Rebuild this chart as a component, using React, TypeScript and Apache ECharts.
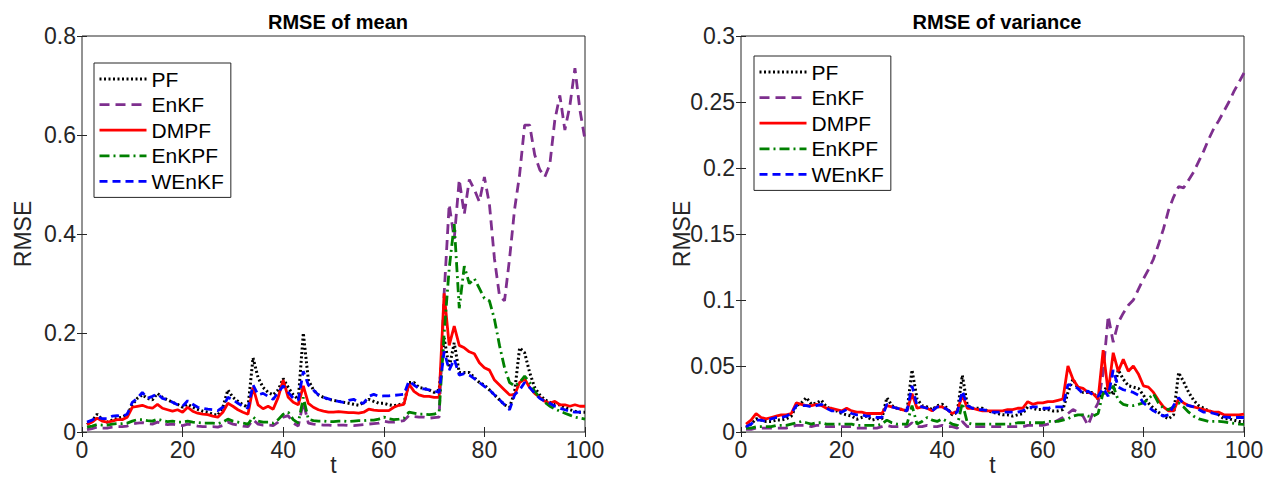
import React, { useEffect, useRef } from "react";
import * as echarts from "echarts";

const T = Array.from({ length: 100 }, (_, i) => i + 1);
const seriesNames = ["PF", "EnKF", "DMPF", "EnKPF", "WEnKF"];

// ---- RMSE of mean ----
const meanPF = [
  0.015, 0.022, 0.036, 0.025, 0.02, 0.024, 0.028, 0.03, 0.035, 0.055,
  0.068, 0.075, 0.068, 0.065, 0.078, 0.07, 0.065, 0.06, 0.056, 0.05,
  0.056, 0.05, 0.046, 0.042, 0.04, 0.036, 0.034, 0.05, 0.085, 0.07,
  0.062, 0.055, 0.05, 0.15, 0.11, 0.09, 0.08, 0.075, 0.085, 0.108,
  0.09, 0.075, 0.066, 0.2, 0.105, 0.085, 0.075, 0.07, 0.066, 0.064,
  0.062, 0.06, 0.058, 0.056, 0.054, 0.06, 0.066, 0.062, 0.058, 0.058,
  0.055, 0.053, 0.055, 0.058, 0.1, 0.1, 0.09, 0.088, 0.085, 0.08,
  0.085, 0.19, 0.13, 0.18, 0.12, 0.12, 0.12, 0.11, 0.1, 0.095,
  0.085, 0.075, 0.065, 0.055, 0.05, 0.08, 0.17, 0.16, 0.12, 0.09,
  0.075, 0.065, 0.06, 0.055, 0.055, 0.05, 0.045, 0.042, 0.04, 0.04,
];
const meanEnKF = [
  0.005, 0.007, 0.01, 0.008, 0.008, 0.01, 0.011, 0.011, 0.012, 0.016,
  0.018, 0.019, 0.017, 0.016, 0.02, 0.017, 0.015, 0.016, 0.014, 0.013,
  0.016, 0.014, 0.012, 0.011, 0.011, 0.011, 0.01, 0.013, 0.02, 0.016,
  0.014, 0.012, 0.011, 0.025, 0.016, 0.014, 0.014, 0.013, 0.02, 0.03,
  0.033, 0.018, 0.012, 0.06, 0.018, 0.016, 0.015, 0.014, 0.014, 0.013,
  0.014, 0.014, 0.013, 0.013, 0.014, 0.015, 0.016, 0.017, 0.018, 0.022,
  0.02, 0.02, 0.021, 0.023, 0.033, 0.031, 0.03, 0.03, 0.028, 0.029,
  0.03, 0.28, 0.46, 0.39, 0.51, 0.44, 0.51, 0.49, 0.465, 0.515,
  0.46, 0.35, 0.275, 0.265, 0.35, 0.45, 0.52, 0.62, 0.62, 0.56,
  0.53, 0.515, 0.54, 0.63, 0.68, 0.61, 0.66, 0.735, 0.65, 0.59,
];
const meanDMPF = [
  0.015, 0.02, 0.028, 0.022, 0.02, 0.022, 0.025, 0.025, 0.03, 0.05,
  0.052, 0.054, 0.05, 0.048, 0.056, 0.048, 0.045, 0.042, 0.045, 0.04,
  0.05, 0.042, 0.038, 0.036, 0.035, 0.032, 0.03, 0.04, 0.058, 0.052,
  0.045, 0.04, 0.036, 0.09, 0.055, 0.047, 0.052, 0.046, 0.07, 0.105,
  0.07, 0.06, 0.055, 0.093, 0.058, 0.05, 0.045, 0.042, 0.04, 0.04,
  0.041, 0.04, 0.039, 0.039, 0.038, 0.04, 0.046, 0.044, 0.043, 0.043,
  0.043, 0.05, 0.054, 0.056, 0.097, 0.082, 0.075, 0.072, 0.072, 0.07,
  0.07, 0.28, 0.175, 0.214, 0.175, 0.17, 0.162, 0.158, 0.14, 0.13,
  0.125, 0.105, 0.095, 0.085, 0.075, 0.075, 0.1, 0.107, 0.09, 0.078,
  0.07, 0.062, 0.058, 0.062, 0.055, 0.055, 0.052, 0.055, 0.052, 0.052,
];
const meanEnKPF = [
  0.01, 0.012, 0.015, 0.014, 0.014, 0.016, 0.017, 0.017, 0.018, 0.022,
  0.025, 0.025, 0.023, 0.022, 0.026, 0.023, 0.021, 0.022, 0.02, 0.02,
  0.022, 0.02, 0.019, 0.018, 0.018, 0.018, 0.017, 0.02, 0.026, 0.022,
  0.02, 0.018, 0.016, 0.03, 0.022, 0.02, 0.02, 0.018, 0.025, 0.036,
  0.04, 0.025, 0.018, 0.07, 0.026, 0.023, 0.022, 0.022, 0.021, 0.021,
  0.022, 0.022, 0.021, 0.022, 0.023, 0.023, 0.024, 0.024, 0.026, 0.03,
  0.027, 0.025, 0.026, 0.028, 0.04, 0.038, 0.036, 0.036, 0.035, 0.036,
  0.04, 0.2, 0.33, 0.42, 0.25, 0.335, 0.3, 0.31, 0.29, 0.27,
  0.265, 0.228, 0.175, 0.13, 0.1, 0.093, 0.1, 0.113, 0.1, 0.082,
  0.07, 0.06, 0.052, 0.047, 0.042, 0.038, 0.034, 0.03, 0.028, 0.026,
];
const meanWEnKF = [
  0.02, 0.024, 0.03, 0.027, 0.027, 0.032, 0.033, 0.032, 0.036, 0.06,
  0.068, 0.08, 0.068, 0.072, 0.077, 0.068, 0.065, 0.06, 0.055, 0.052,
  0.063, 0.056, 0.05, 0.048, 0.046, 0.045, 0.043, 0.05, 0.07, 0.065,
  0.058, 0.052, 0.048, 0.095, 0.075, 0.078, 0.072, 0.066, 0.08, 0.093,
  0.08, 0.068, 0.064, 0.123, 0.095, 0.085, 0.075, 0.07, 0.067, 0.064,
  0.062, 0.06, 0.064, 0.066, 0.06, 0.058, 0.072, 0.076, 0.072, 0.073,
  0.073, 0.074, 0.075, 0.076, 0.103, 0.095, 0.088, 0.087, 0.085, 0.083,
  0.08, 0.163, 0.125, 0.147, 0.115, 0.118, 0.115, 0.108, 0.1, 0.092,
  0.085, 0.075, 0.065, 0.055, 0.045, 0.075, 0.085, 0.1, 0.09, 0.078,
  0.068, 0.062, 0.058, 0.052, 0.048, 0.045, 0.042, 0.04, 0.04, 0.04,
];

// ---- RMSE of variance ----
const varPF = [
  0.003, 0.006, 0.01, 0.009, 0.008, 0.008, 0.009, 0.009, 0.01, 0.012,
  0.02, 0.022, 0.026, 0.021, 0.022, 0.024, 0.019, 0.017, 0.016, 0.014,
  0.013, 0.012, 0.0096, 0.011, 0.012, 0.009, 0.01, 0.01, 0.026, 0.02,
  0.018, 0.017, 0.016, 0.047, 0.025, 0.02, 0.019, 0.017, 0.02, 0.021,
  0.018, 0.013, 0.015, 0.043, 0.02, 0.018, 0.018, 0.018, 0.016, 0.015,
  0.014, 0.013, 0.013, 0.012, 0.013, 0.014, 0.019, 0.018, 0.017, 0.017,
  0.017, 0.016, 0.016, 0.017, 0.03, 0.04, 0.033, 0.03, 0.03, 0.03,
  0.025, 0.03, 0.036, 0.028, 0.047, 0.04, 0.035, 0.034, 0.033, 0.028,
  0.022, 0.018, 0.015, 0.012, 0.01, 0.013, 0.045, 0.038, 0.03, 0.024,
  0.02, 0.018, 0.016, 0.015, 0.013, 0.01, 0.01, 0.009, 0.008, 0.008,
];
const varEnKF = [
  0.002, 0.002, 0.003, 0.003, 0.003, 0.003, 0.003, 0.003, 0.003, 0.004,
  0.005, 0.005, 0.005, 0.004, 0.005, 0.005, 0.004, 0.004, 0.004, 0.004,
  0.004, 0.004, 0.003, 0.003, 0.003, 0.003, 0.003, 0.004, 0.005, 0.004,
  0.004, 0.004, 0.004, 0.007, 0.004, 0.004, 0.005, 0.004, 0.004, 0.005,
  0.004, 0.004, 0.003, 0.008, 0.004, 0.004, 0.004, 0.004, 0.004, 0.004,
  0.004, 0.004, 0.004, 0.004, 0.004, 0.004, 0.005, 0.005, 0.005, 0.005,
  0.006, 0.007, 0.009, 0.011, 0.014, 0.017, 0.015, 0.012, 0.005, 0.015,
  0.022, 0.045, 0.088, 0.068, 0.083, 0.09, 0.096, 0.1, 0.108, 0.116,
  0.123, 0.131, 0.142, 0.154, 0.168, 0.178, 0.186, 0.185, 0.191, 0.197,
  0.205, 0.213, 0.222, 0.23, 0.236, 0.243, 0.25, 0.258, 0.265, 0.272,
];
const varDMPF = [
  0.006, 0.009, 0.014, 0.011, 0.01, 0.011, 0.012, 0.013, 0.013, 0.014,
  0.022, 0.021, 0.02, 0.02, 0.021, 0.02, 0.018, 0.018, 0.017, 0.016,
  0.018, 0.016, 0.015, 0.015, 0.014, 0.014, 0.014, 0.014, 0.02, 0.019,
  0.018, 0.017, 0.016, 0.029, 0.018, 0.019, 0.018, 0.016, 0.019, 0.019,
  0.017, 0.014, 0.016, 0.028, 0.018, 0.018, 0.017, 0.016, 0.016, 0.016,
  0.016, 0.016, 0.017, 0.017, 0.018, 0.018, 0.023, 0.021, 0.022, 0.022,
  0.023, 0.023, 0.024, 0.025, 0.05, 0.04, 0.034, 0.033, 0.03, 0.029,
  0.025, 0.062, 0.03, 0.06, 0.046, 0.055, 0.046, 0.05, 0.044, 0.035,
  0.034, 0.03, 0.024, 0.019, 0.016, 0.016, 0.025, 0.022, 0.02, 0.019,
  0.018, 0.017, 0.016, 0.015, 0.015, 0.013, 0.013, 0.013, 0.013, 0.0135,
];
const varEnKPF = [
  0.003, 0.003, 0.004, 0.004, 0.004, 0.004, 0.005, 0.005, 0.005, 0.006,
  0.007, 0.008, 0.007, 0.006, 0.007, 0.007, 0.006, 0.006, 0.006, 0.006,
  0.006, 0.006, 0.005, 0.005, 0.005, 0.005, 0.005, 0.006, 0.009, 0.007,
  0.006, 0.006, 0.006, 0.02, 0.006, 0.008, 0.011, 0.009, 0.008, 0.01,
  0.008, 0.006, 0.005, 0.022, 0.007, 0.006, 0.006, 0.006, 0.006, 0.006,
  0.006, 0.006, 0.006, 0.006, 0.007, 0.007, 0.007, 0.007, 0.007, 0.007,
  0.008, 0.008, 0.008, 0.009, 0.01, 0.012, 0.013, 0.013, 0.012, 0.012,
  0.014, 0.03, 0.028, 0.035, 0.024, 0.021, 0.02, 0.02, 0.021, 0.022,
  0.025, 0.029, 0.022, 0.018, 0.017, 0.019, 0.022, 0.019, 0.015, 0.012,
  0.01, 0.009, 0.008, 0.008, 0.008, 0.0076, 0.007, 0.0065, 0.006, 0.0057,
];
const varWEnKF = [
  0.004, 0.006, 0.009, 0.009, 0.008, 0.01, 0.011, 0.011, 0.012, 0.014,
  0.02, 0.02, 0.02, 0.019, 0.02, 0.021, 0.018, 0.016, 0.016, 0.015,
  0.017, 0.014, 0.013, 0.013, 0.012, 0.012, 0.011, 0.011, 0.021, 0.019,
  0.018, 0.017, 0.016, 0.035, 0.02, 0.019, 0.018, 0.016, 0.019, 0.019,
  0.017, 0.014, 0.015, 0.031, 0.02, 0.018, 0.017, 0.017, 0.016, 0.015,
  0.015, 0.015, 0.015, 0.015, 0.015, 0.016, 0.018, 0.019, 0.019, 0.018,
  0.018, 0.019, 0.019, 0.019, 0.036, 0.035, 0.033, 0.029, 0.031, 0.028,
  0.027, 0.033, 0.027, 0.047, 0.034, 0.032, 0.031, 0.03, 0.028, 0.022,
  0.019, 0.016, 0.014, 0.012, 0.013, 0.02, 0.026, 0.021, 0.02, 0.019,
  0.017, 0.015, 0.015, 0.014, 0.013, 0.0115, 0.011, 0.011, 0.011, 0.011,
];

const FONT = "'Liberation Sans', Arial, Helvetica, sans-serif";
const AXC = "#262626";
const TICK_FS = 23;

const styles: Record<string, { color: string; type: any; width: number }> = {
  PF: { color: "#000000", type: [2, 2.5], width: 3 },
  EnKF: { color: "#7E2F8E", type: [10, 6], width: 2.8 },
  DMPF: { color: "#FF0000", type: "solid", width: 2.8 },
  EnKPF: { color: "#008000", type: [10, 4, 2, 4], width: 2.8 },
  WEnKF: { color: "#0000FF", type: [8, 5], width: 2.8 },
};

function mkSeries(name: string, vals: number[], idx: number) {
  const s = styles[name];
  return {
    name,
    type: "line",
    xAxisIndex: idx * 2,
    yAxisIndex: idx * 2,
    data: T.map((t, i) => [t, vals[i]]),
    showSymbol: false,
    symbol: "none",
    lineStyle: { color: s.color, type: s.type, width: s.width },
    itemStyle: { color: s.color },
    z: 2,
  };
}

function mkAxes(gridIndex: number, ymax: number, yint: number) {
  const tick = { show: true, inside: true, length: 5, lineStyle: { color: AXC } };
  const xMain = {
    type: "value",
    gridIndex,
    min: 0,
    max: 100,
    interval: 20,
    name: "t",
    nameLocation: "middle",
    nameGap: 21,
    nameMoveOverlap: false,
    nameTextStyle: { fontFamily: FONT, fontSize: TICK_FS, color: AXC },
    axisLine: { show: false },
    axisTick: tick,
    axisLabel: { fontFamily: FONT, fontSize: TICK_FS, color: AXC, margin: 6 },
    splitLine: { show: false },
  };
  const xTop = {
    type: "value",
    gridIndex,
    position: "top",
    min: 0,
    max: 100,
    interval: 20,
    axisLine: { show: false },
    axisTick: tick,
    axisLabel: { show: false },
    splitLine: { show: false },
  };
  const yMain = {
    type: "value",
    gridIndex,
    min: 0,
    max: ymax,
    interval: yint,
    name: "RMSE",
    nameLocation: "middle",
    nameRotate: 90,
    nameGap: 48,
    nameMoveOverlap: false,
    nameTextStyle: { fontFamily: FONT, fontSize: TICK_FS, color: AXC },
    axisLine: { show: false },
    axisTick: tick,
    axisLabel: { fontFamily: FONT, fontSize: TICK_FS, color: AXC, margin: 6 },
    splitLine: { show: false },
  };
  const yRight = {
    type: "value",
    gridIndex,
    position: "right",
    min: 0,
    max: ymax,
    interval: yint,
    axisLine: { show: false },
    axisTick: tick,
    axisLabel: { show: false },
    splitLine: { show: false },
  };
  return { x: [xMain, xTop], y: [yMain, yRight] };
}

function mkLegend(left: number, top: number) {
  return {
    orient: "vertical",
    left,
    top,
    data: seriesNames,
    itemWidth: 47,
    itemHeight: 14,
    itemGap: 3.6,
    padding: [5, 7, 5, 4],
    borderColor: AXC,
    borderWidth: 1,
    borderRadius: 0,
    backgroundColor: "#ffffff",
    selectedMode: false,
    itemStyle: { opacity: 0 },
    lineStyle: { type: "inherit", width: "inherit" },
    textStyle: { fontFamily: FONT, fontSize: 21, color: "#000", lineHeight: 22 },
  };
}

export default function App() {
  const ref = useRef<HTMLDivElement>(null);
  useEffect(() => {
    document.body.style.margin = "0";
    if (!ref.current) return;
    const chart = echarts.init(ref.current, undefined, { renderer: "svg" });
    const a1 = mkAxes(0, 0.8, 0.2);
    const a2 = mkAxes(1, 0.3, 0.05);
    const meanVals: Record<string, number[]> = {
      PF: meanPF, EnKF: meanEnKF, DMPF: meanDMPF, EnKPF: meanEnKPF, WEnKF: meanWEnKF,
    };
    const varVals: Record<string, number[]> = {
      PF: varPF, EnKF: varEnKF, DMPF: varDMPF, EnKPF: varEnKPF, WEnKF: varWEnKF,
    };
    const option: any = {
      animation: false,
      backgroundColor: "#ffffff",
      title: [
        {
          text: "RMSE of mean",
          left: 333,
          top: 7,
          textAlign: "center",
          textStyle: { fontFamily: FONT, fontSize: 20, fontWeight: "bold", color: "#000" },
        },
        {
          text: "RMSE of variance",
          left: 992,
          top: 7,
          textAlign: "center",
          textStyle: { fontFamily: FONT, fontSize: 20, fontWeight: "bold", color: "#000" },
        },
      ],
      grid: [
        { left: 82, top: 36, width: 503, height: 396, show: true, borderColor: AXC, borderWidth: 1, backgroundColor: "transparent", containLabel: false, outerBoundsMode: "none" },
        { left: 741, top: 36, width: 503, height: 396, show: true, borderColor: AXC, borderWidth: 1, backgroundColor: "transparent", containLabel: false, outerBoundsMode: "none" },
      ],
      xAxis: [...a1.x, ...a2.x],
      yAxis: [...a1.y, ...a2.y],
      legend: [mkLegend(94, 63), mkLegend(754, 56)],
      series: [
        ...seriesNames.map((n) => mkSeries(n, meanVals[n], 0)),
        ...seriesNames.map((n) => mkSeries(n, varVals[n], 1)),
      ],
    };
    chart.setOption(option);
    return () => chart.dispose();
  }, []);
  return <div ref={ref} style={{ width: 1272, height: 479 }} />;
}
